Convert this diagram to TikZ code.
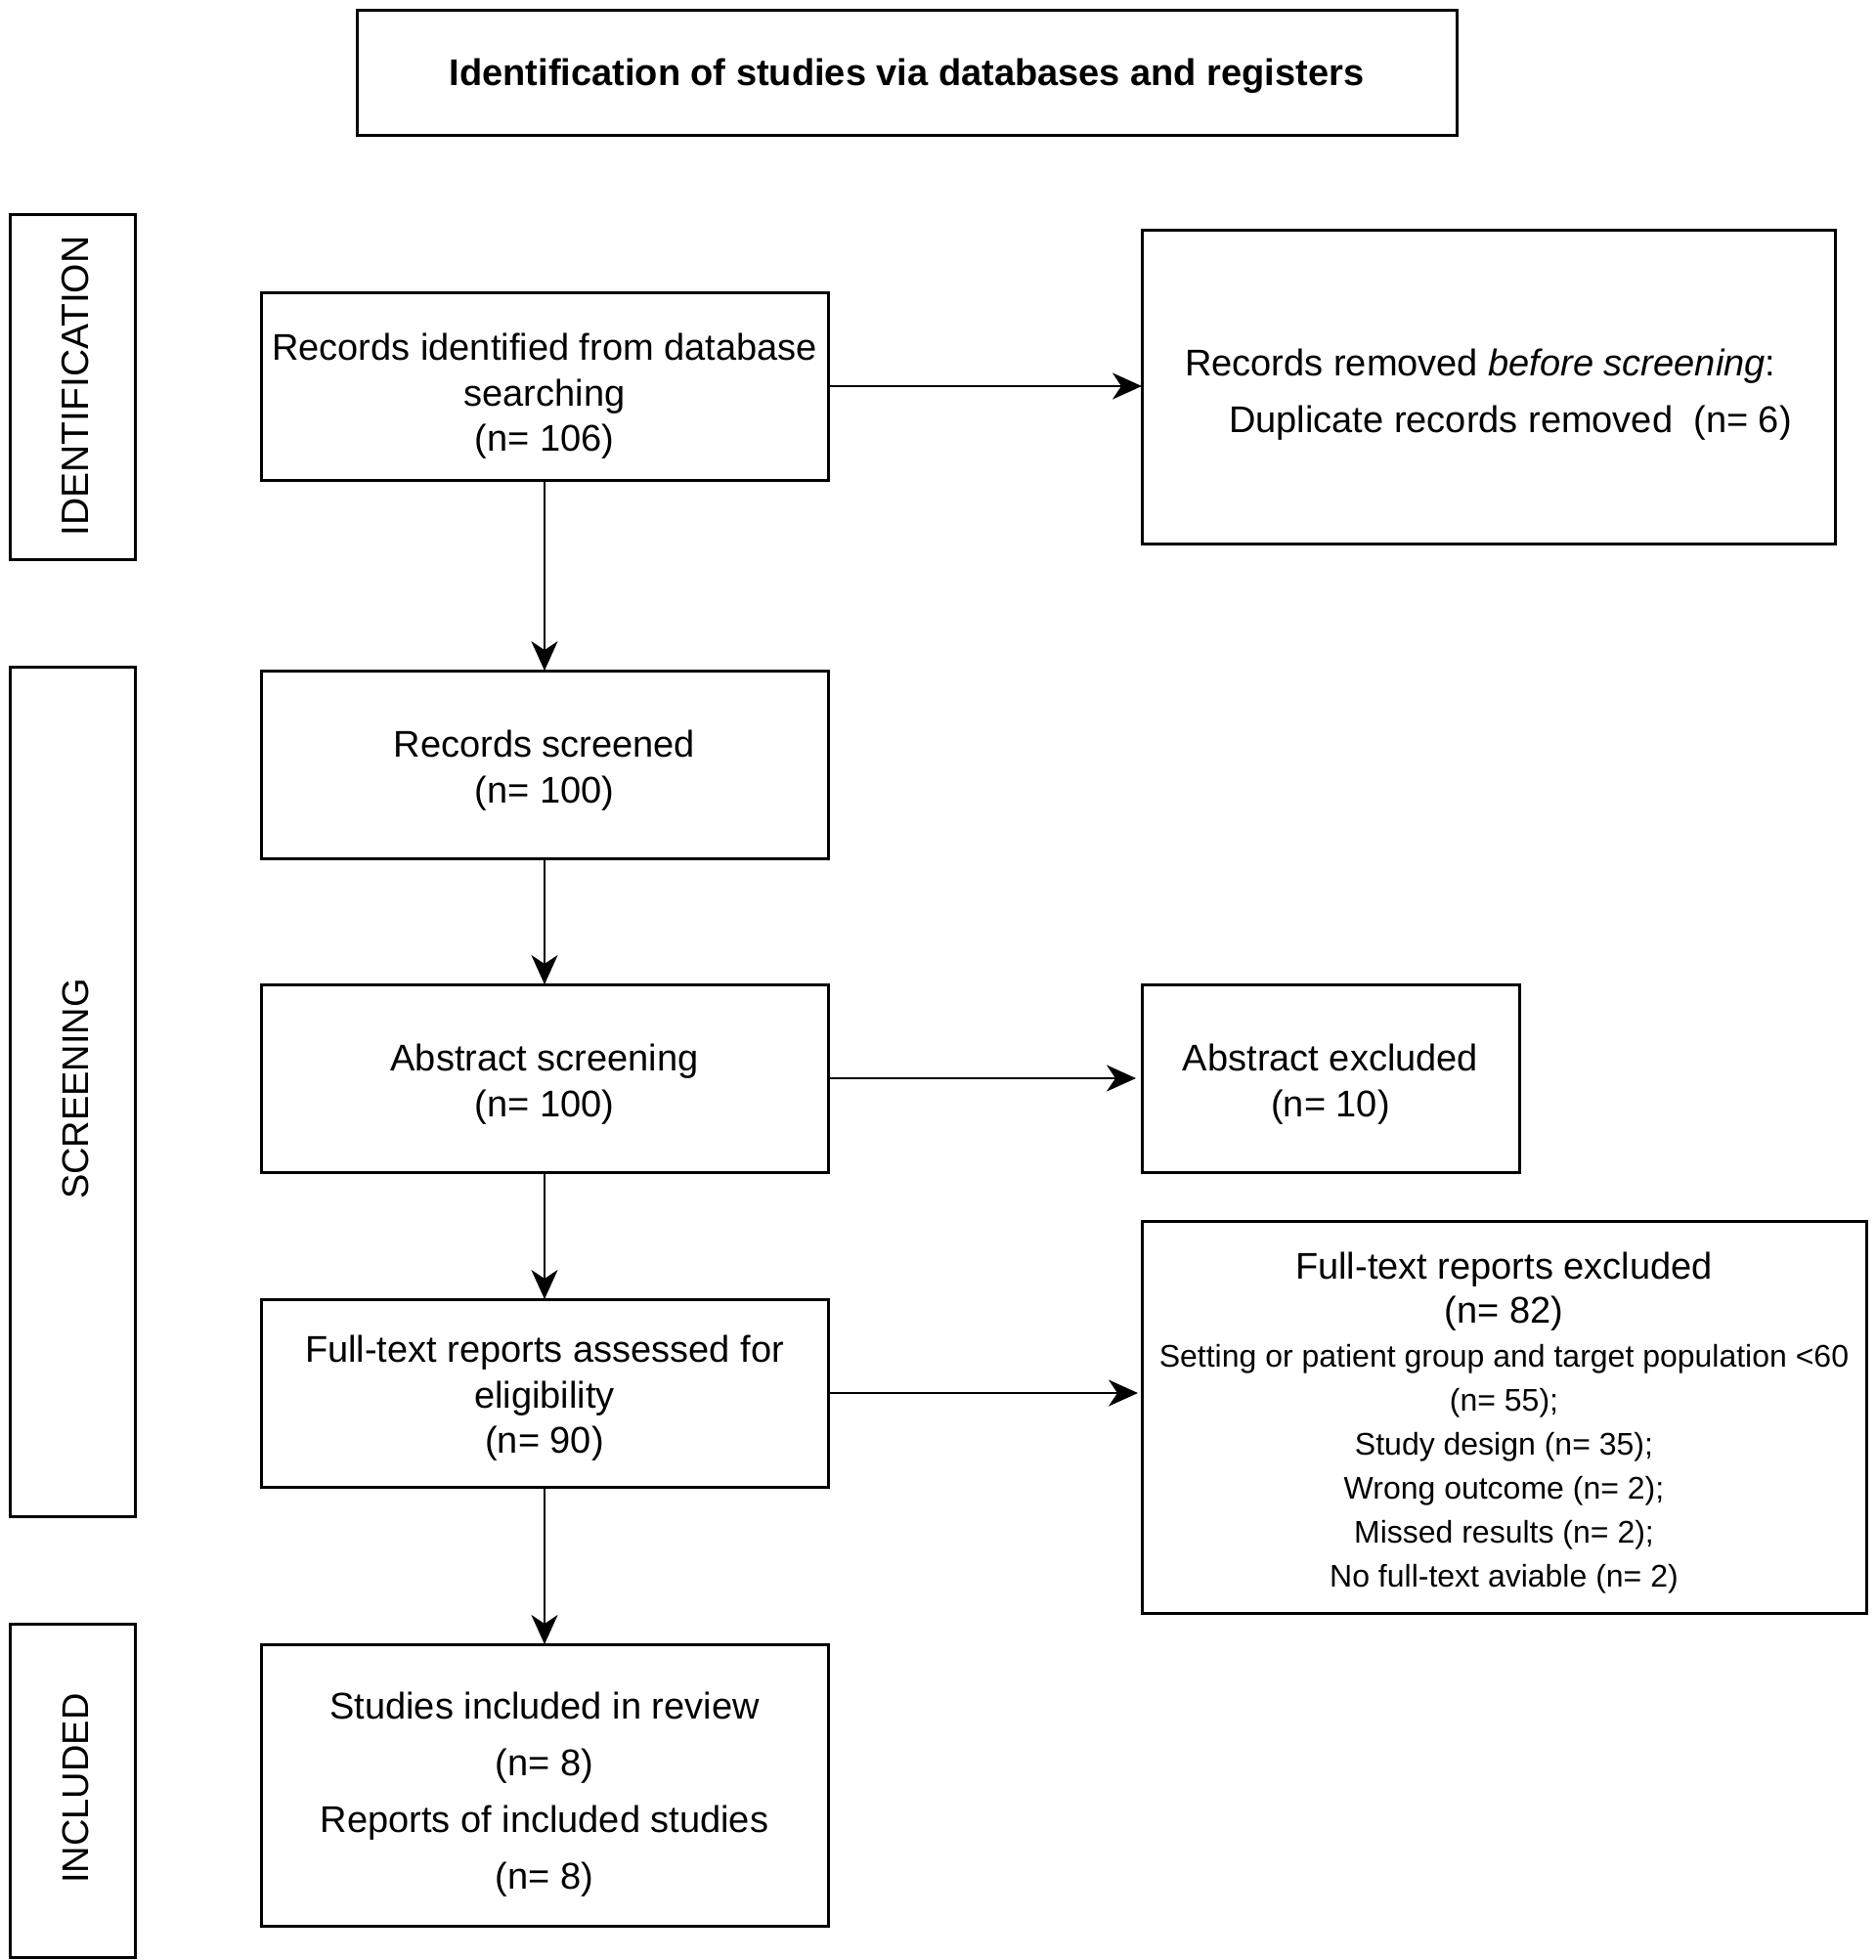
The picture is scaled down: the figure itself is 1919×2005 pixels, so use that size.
\documentclass[tikz,border=0pt]{standalone}
\usepackage{fontspec}
\setmainfont{Liberation Sans}
\usetikzlibrary{arrows.meta}
\newcommand{\topstrut}[1]{\rule{0pt}{#1}}
\begin{document}
\begin{tikzpicture}[x=1pt,y=-1pt,
  box/.style={draw, line width=3pt, inner sep=0pt, outer sep=0pt, align=center,
    font=\fontsize{38}{46.5}\selectfont},
  sidebox/.style={draw, line width=3pt, inner sep=0pt, outer sep=0pt, minimum width=128pt},
  sidelabel/.style={rotate=90, inner sep=0pt, font=\fontsize{38}{44}\selectfont},
  arr/.style={line width=2.7pt, -{Stealth[length=30pt, width=27pt, inset=9pt]}}
]
\useasboundingbox (0,0) rectangle (1919,2005);
\fill[white] (0,0) rectangle (1919,2005);

% title
\node[box, minimum width=1125pt, minimum height=128pt, font=\fontsize{38}{46}\selectfont\bfseries]
  (title) at (927.5,74) {\topstrut{36pt}Identification of studies via databases and registers};

% side boxes
\node[sidebox, minimum height=353pt] (sideid) at (74,395.5) {};
\node[sidelabel, font=\fontsize{39}{44}\selectfont] (sideidt) at (77,395) {IDENTIFICATION};
\node[sidebox, minimum height=869pt] (sidesc) at (74,1116.5) {};
\node[sidelabel] (sidesct) at (77,1114) {SCREENING};
\node[sidebox, minimum height=341pt] (sidein) at (74,1831.5) {};
\node[sidelabel] (sideint) at (77,1829.5) {INCLUDED};

% left column
\node[box, minimum width=580pt, minimum height=192pt] (rid) at (557,395)
  {\topstrut{48pt}Records identified from database\\searching\\(n= 106)};
\node[box, minimum width=580pt, minimum height=192pt] (rsc) at (557,782)
  {\topstrut{40pt}Records screened\\(n= 100)};
\node[box, minimum width=580pt, minimum height=192pt] (abs) at (557,1103)
  {\topstrut{40pt}Abstract screening\\(n= 100)};
\node[box, minimum width=580pt, minimum height=192pt] (fta) at (557,1425)
  {\topstrut{38pt}Full-text reports assessed for\\eligibility\\(n= 90)};
\node[box, minimum width=580pt, minimum height=288pt, font=\fontsize{38}{58}\selectfont] (inc) at (557,1826)
  {\topstrut{46pt}Studies included in review\\(n= 8)\\Reports of included studies\\(n= 8)};

% right column
\node[box, minimum width=709pt, minimum height=321pt, align=left, font=\fontsize{38}{58}\selectfont] (rrm) at (1522.5,395.5)
  {\topstrut{44pt}Records removed \emph{before screening}:\\\hspace*{45pt}Duplicate records removed\ \ (n= 6)};
\node[box, minimum width=386pt, minimum height=192pt] (abx) at (1361,1103)
  {\topstrut{40pt}Abstract excluded\\(n= 10)};
\node[box, minimum width=741pt, minimum height=401pt, font=\fontsize{32}{45}\selectfont] (ftx) at (1538.5,1449.5)
  {{\fontsize{38}{46}\selectfont\topstrut{40pt}Full-text reports excluded}\\
   {\fontsize{38}{46}\selectfont (n= 82)}\\
   Setting or patient group and target population <60\\
   (n= 55);\\
   Study design (n= 35);\\
   Wrong outcome (n= 2);\\
   Missed results (n= 2);\\
   No full-text aviable (n= 2)};

% arrows
\draw[arr] (rid.south) -- (rsc.north);
\draw[arr] (rsc.south) -- (abs.north);
\draw[arr] (abs.south) -- (fta.north);
\draw[arr] (fta.south) -- (inc.north);
\draw[arr] (rid.east) -- (rid.east -| rrm.west);
\draw[arr, shorten >=6pt] (abs.east) -- (abx.west);
\draw[arr, shorten >=4pt] (fta.east) -- (fta.east -| ftx.west);
\end{tikzpicture}
\end{document}
